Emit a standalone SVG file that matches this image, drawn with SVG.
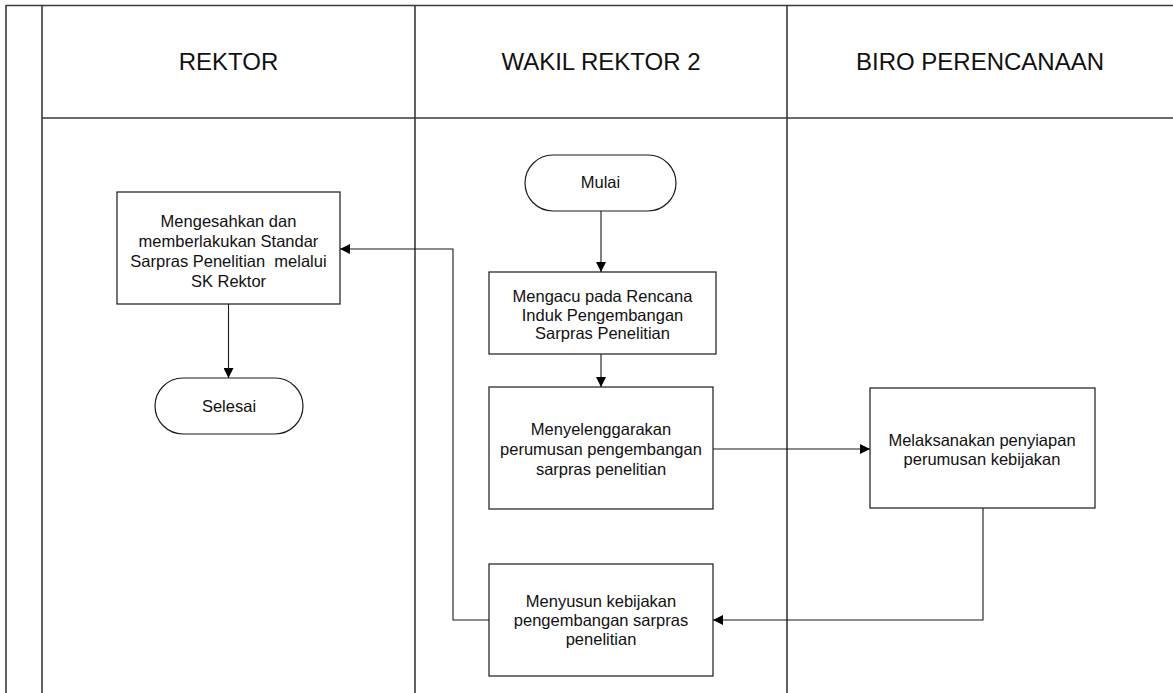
<svg xmlns="http://www.w3.org/2000/svg" width="1173" height="693" viewBox="0 0 1173 693">
<style>
.frame{stroke:#3a3a3a;stroke-width:1.6;fill:none}
.box{fill:#fff;stroke:#1a1a1a;stroke-width:1.2}
.conn{fill:none;stroke:#1a1a1a;stroke-width:1.1}
.t{font-family:"Liberation Sans",Arial,sans-serif;font-size:16.5px;fill:#111;text-anchor:middle;white-space:pre}
.h{font-family:"Liberation Sans",Arial,sans-serif;font-size:24px;fill:#111;text-anchor:middle}
</style>
<defs>
<marker id="arr" markerUnits="userSpaceOnUse" markerWidth="11" markerHeight="10" refX="10" refY="5" orient="auto">
<path d="M0,0 L10,5 L0,10 z" fill="#000"/>
</marker>
</defs>
<rect width="1173" height="693" fill="#fff"/>
<g id="frame">
<line class="frame" x1="6" y1="5.5" x2="1173" y2="5.5"/>
<line class="frame" x1="6" y1="5" x2="6" y2="693"/>
<line class="frame" x1="42" y1="5" x2="42" y2="693"/>
<line class="frame" x1="42" y1="118" x2="1173" y2="118"/>
<line class="frame" x1="415" y1="5" x2="415" y2="693"/>
<line class="frame" x1="787" y1="5" x2="787" y2="693"/>
</g>
<g id="headers">
<text class="h" x="228.5" y="70">REKTOR</text>
<text class="h" x="601" y="70">WAKIL REKTOR 2</text>
<text class="h" x="980" y="70">BIRO PERENCANAAN</text>
</g>
<g id="connectors">
<line class="conn" x1="228.5" y1="304" x2="228.5" y2="378" marker-end="url(#arr)"/>
<line class="conn" x1="601" y1="211" x2="601" y2="272" marker-end="url(#arr)"/>
<line class="conn" x1="601" y1="354" x2="601" y2="387" marker-end="url(#arr)"/>
<line class="conn" x1="713" y1="449" x2="870" y2="449" marker-end="url(#arr)"/>
<polyline class="conn" points="983,508 983,620 713,620" marker-end="url(#arr)"/>
<polyline class="conn" points="489,620 453,620 453,249 340,249" marker-end="url(#arr)"/>
</g>
<g id="n-mengesahkan">
<rect class="box" x="117" y="192" width="223" height="112"/>
<text class="t" x="228.5" y="227">Mengesahkan dan</text>
<text class="t" x="228.5" y="247">memberlakukan Standar</text>
<text class="t" x="228.5" y="267">Sarpras Penelitian  melalui</text>
<text class="t" x="228.5" y="287">SK Rektor</text>
</g>
<g id="n-selesai">
<rect class="box" x="155" y="378" width="148" height="56" rx="28" ry="28"/>
<text class="t" x="229" y="412">Selesai</text>
</g>
<g id="n-mulai">
<rect class="box" x="525" y="155" width="151" height="56" rx="28" ry="28"/>
<text class="t" x="600.5" y="188">Mulai</text>
</g>
<g id="n-mengacu">
<rect class="box" x="489" y="272" width="227" height="82"/>
<text class="t" x="602.5" y="302">Mengacu pada Rencana</text>
<text class="t" x="602.5" y="320.5">Induk Pengembangan</text>
<text class="t" x="602.5" y="339">Sarpras Penelitian</text>
</g>
<g id="n-menyelenggarakan">
<rect class="box" x="489" y="387" width="224" height="122"/>
<text class="t" x="601" y="435">Menyelenggarakan</text>
<text class="t" x="601" y="455">perumusan pengembangan</text>
<text class="t" x="601" y="475">sarpras penelitian</text>
</g>
<g id="n-melaksanakan">
<rect class="box" x="870" y="388" width="225" height="120"/>
<text class="t" x="982" y="446">Melaksanakan penyiapan</text>
<text class="t" x="982" y="465">perumusan kebijakan</text>
</g>
<g id="n-menyusun">
<rect class="box" x="489" y="564" width="224" height="112"/>
<text class="t" x="601" y="607">Menyusun kebijakan</text>
<text class="t" x="601" y="626">pengembangan sarpras</text>
<text class="t" x="601" y="645">penelitian</text>
</g>
</svg>
